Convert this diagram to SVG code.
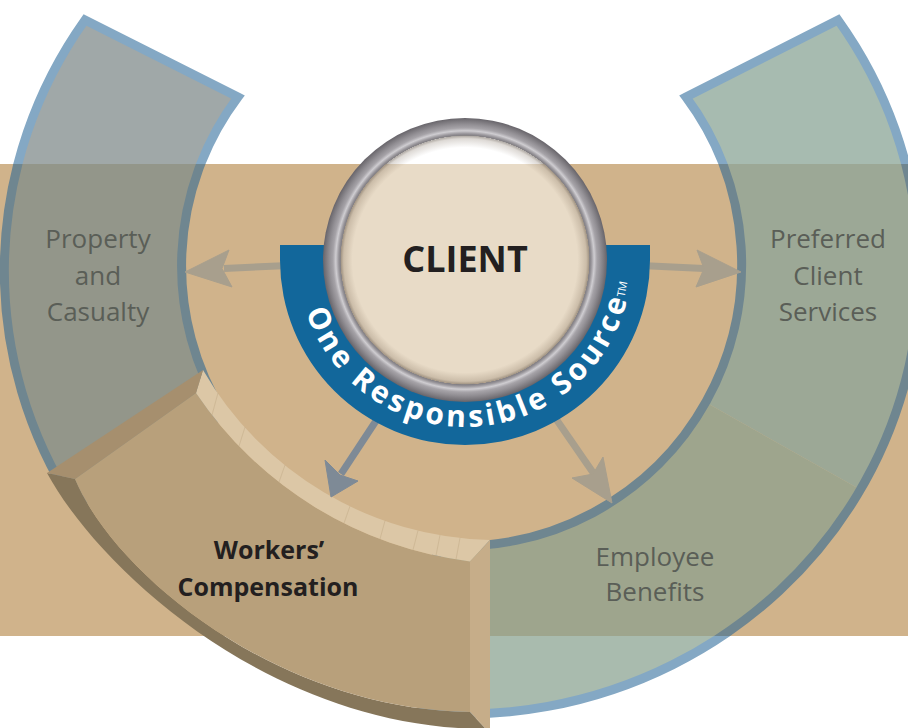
<svg xmlns="http://www.w3.org/2000/svg" width="908" height="728" viewBox="0 0 908 728">
<style>
.lbl{font-family:"Open Sans","Liberation Sans",sans-serif;font-size:26px;fill:#5A5E57;text-anchor:middle}
.wc{font-family:"Open Sans","Liberation Sans",sans-serif;font-size:25px;font-weight:700;fill:#231F20;text-anchor:middle}
.client{font-family:"Open Sans","Liberation Sans",sans-serif;font-size:36px;font-weight:700;fill:#231F20;text-anchor:middle}
.ors{font-family:"Open Sans","Liberation Sans",sans-serif;font-size:30px;font-weight:700;fill:#FFFFFF;letter-spacing:3.5px}
.tm{font-family:"Open Sans","Liberation Sans",sans-serif;font-size:11px;fill:#FFFFFF;text-anchor:middle}
.ol{fill:none;stroke-width:9;stroke-linejoin:miter}
.olW{stroke:#84A8C4}
.olT{stroke:#6F8690}
.shaft{fill:none;stroke-width:7}
.arrTan{stroke:#A89F8D;fill:#A89F8D}
.arrBlue{stroke:#7E8A96;fill:#7E8A96}
.hair{stroke:#C2AA86;stroke-width:0.7;opacity:0.7}
</style>
<defs>
<clipPath id="cpW"><path d="M0,0H908V164H0Z M0,636H908V728H0Z"/></clipPath>
<clipPath id="cpT"><rect x="0" y="164" width="908" height="472"/></clipPath>
<path id="segPC" d="M85,20 A456.5,442 0 0,0 74.4,506.2 L223.7,413.9 A281,281 0 0,1 238,97 Z"/>
<path id="segPCS" d="M838,20 A456.5,442 0 0,1 859.2,489 L706.8,403 A281,281 0 0,0 686,97 Z"/>
<path id="segEB" d="M859.2,489 A456.5,442 0 0,1 421.7,712.3 L437.5,544.9 A281,281 0 0,0 706.8,403 Z"/>
<path id="olLeft" d="M238,97 L85,20 A456.5,442 0 0,0 74.4,506.2 L223.7,413.9 A281,281 0 0,1 238,97 Z"/>
<path id="olRight" d="M686,97 L838,20 A456.5,442 0 0,1 421.7,712.3 L437.5,544.9 A281,281 0 0,0 686,97 Z"/>
<path id="orsPath" d="M299.37,238.63 A167,167 0 1,0 627.94,223.43" fill="none"/>
<radialGradient id="bezel" gradientUnits="userSpaceOnUse" cx="465" cy="260" r="142">
<stop offset="0" stop-color="#7E7B80" stop-opacity="0"/>
<stop offset="0.874" stop-color="#7E7B80" stop-opacity="0"/>
<stop offset="0.876" stop-color="#7E7B80"/>
<stop offset="0.89" stop-color="#9A979C"/>
<stop offset="0.91" stop-color="#CFCDD1"/>
<stop offset="0.93" stop-color="#A6A3A8"/>
<stop offset="0.955" stop-color="#928F94"/>
<stop offset="0.98" stop-color="#7B787D"/>
<stop offset="1" stop-color="#67646A"/>
</radialGradient>
<radialGradient id="innerShadow" gradientUnits="userSpaceOnUse" cx="465" cy="260" r="125">
<stop offset="0" stop-color="#5A4632" stop-opacity="0"/>
<stop offset="0.9" stop-color="#5A4632" stop-opacity="0"/>
<stop offset="0.97" stop-color="#5A4632" stop-opacity="0.2"/>
<stop offset="1" stop-color="#3C3228" stop-opacity="0.5"/>
</radialGradient>
</defs>
<rect width="908" height="728" fill="#FFFFFF"/>
<g id="background-band"><rect x="0" y="164" width="908" height="472" fill="#D0B38B"/></g>

<g id="employee-benefits">
<use href="#segEB" clip-path="url(#cpW)" fill="#A9BBAE"/>
<use href="#segEB" clip-path="url(#cpT)" fill="#9EA58D"/>
<text class="lbl"><tspan x="655" y="566">Employee</tspan><tspan x="655" y="601">Benefits</tspan></text>
</g>
<g id="preferred-client-services">
<use href="#segPCS" clip-path="url(#cpW)" fill="#A7BBB0"/>
<use href="#segPCS" clip-path="url(#cpT)" fill="#9CA896"/>
<text class="lbl"><tspan x="828" y="248">Preferred</tspan><tspan x="828" y="284.5">Client</tspan><tspan x="828" y="320.5">Services</tspan></text>
</g>
<g id="property-casualty">
<use href="#segPC" clip-path="url(#cpW)" fill="#A0A8A8"/>
<use href="#segPC" clip-path="url(#cpT)" fill="#93968A"/>
<text class="lbl"><tspan x="98" y="248">Property</tspan><tspan x="98" y="284.5">and</tspan><tspan x="98" y="320.5">Casualty</tspan></text>
</g>
<g id="ring-outline">
<use href="#olLeft" class="ol olW" clip-path="url(#cpW)"/>
<use href="#olLeft" class="ol olT" clip-path="url(#cpT)"/>
<use href="#olRight" class="ol olW" clip-path="url(#cpW)"/>
<use href="#olRight" class="ol olT" clip-path="url(#cpT)"/>
</g>

<g id="workers-compensation">
<path d="M47,473 C100,570 270,728 486,729 L470,712 C280,710 115,575 75,479 Z" fill="#86765A"/>
<path d="M75,479 L196,393 A387.4,387.4 0 0,0 470,561.4 L470,712 C280,710 115,575 75,479 Z" fill="#B8A07B"/>
<path d="M203,370 A340,340 0 0,0 490,540 L470,561.4 A387.4,387.4 0 0,1 196,393 Z" fill="#DCC7A6"/>
<path d="M47,473 L203,370 L196,393 L75,479 Z" fill="#A68F6E"/>
<path d="M470,561.4 L490,540 L490,729 L486,729 L470,712 Z" fill="#C6AD89"/>
<g class="hair">
<line x1="218" y1="392.9" x2="212" y2="415"/>
<line x1="245" y1="427.1" x2="239" y2="446.1"/>
<line x1="285" y1="465" x2="279" y2="482.1"/>
<line x1="350" y1="506.1" x2="344" y2="523.2"/>
<line x1="385" y1="520.7" x2="380" y2="539"/>
<line x1="418" y1="530.5" x2="413" y2="549.9"/>
<line x1="440" y1="535" x2="436" y2="555.6"/>
<line x1="460" y1="537.9" x2="456" y2="559.4"/>
</g>
<text class="wc" x="269" y="559">Workers’</text>
<text class="wc" x="268" y="596">Compensation</text>
</g>

<g id="connectors">
<g class="arrTan">
<line class="shaft" x1="300" y1="265" x2="224" y2="268.5"/>
<polygon points="185,272 229,250 222,268.5 232,287"/>
<line class="shaft" x1="630" y1="265" x2="704" y2="268.5"/>
<polygon points="741,272 697,250 704,268.5 696,287"/>
<line class="shaft" x1="545" y1="403" x2="594" y2="474"/>
<polygon points="612,503 572,478 593,474 603,457"/>
</g>
<g class="arrBlue">
<line class="shaft" x1="395" y1="392" x2="341" y2="474"/>
<polygon points="331,497 325,460 340,475 358,481"/>
</g>
</g>

<g id="one-responsible-source">
<path d="M280,245 L330.8,245 A135,135 0 1,0 599.2,245 L650,245 L650,260 A185,185 0 0,1 280,260 Z" fill="#12679B"/>
<text class="ors"><textPath href="#orsPath" startOffset="50%" text-anchor="middle">One Responsible Source</textPath></text>
<text class="tm" transform="translate(622,289) rotate(-79)" x="0" y="4">TM</text>
</g>

<g id="client">
<circle cx="465" cy="260" r="142" fill="url(#bezel)"/>
<circle cx="465" cy="260" r="124.5" fill="#FFFFFF" fill-opacity="0.52"/>
<circle cx="465" cy="260" r="124.5" fill="url(#innerShadow)"/>
<text class="client" x="465" y="272">CLIENT</text>
</g>
</svg>
